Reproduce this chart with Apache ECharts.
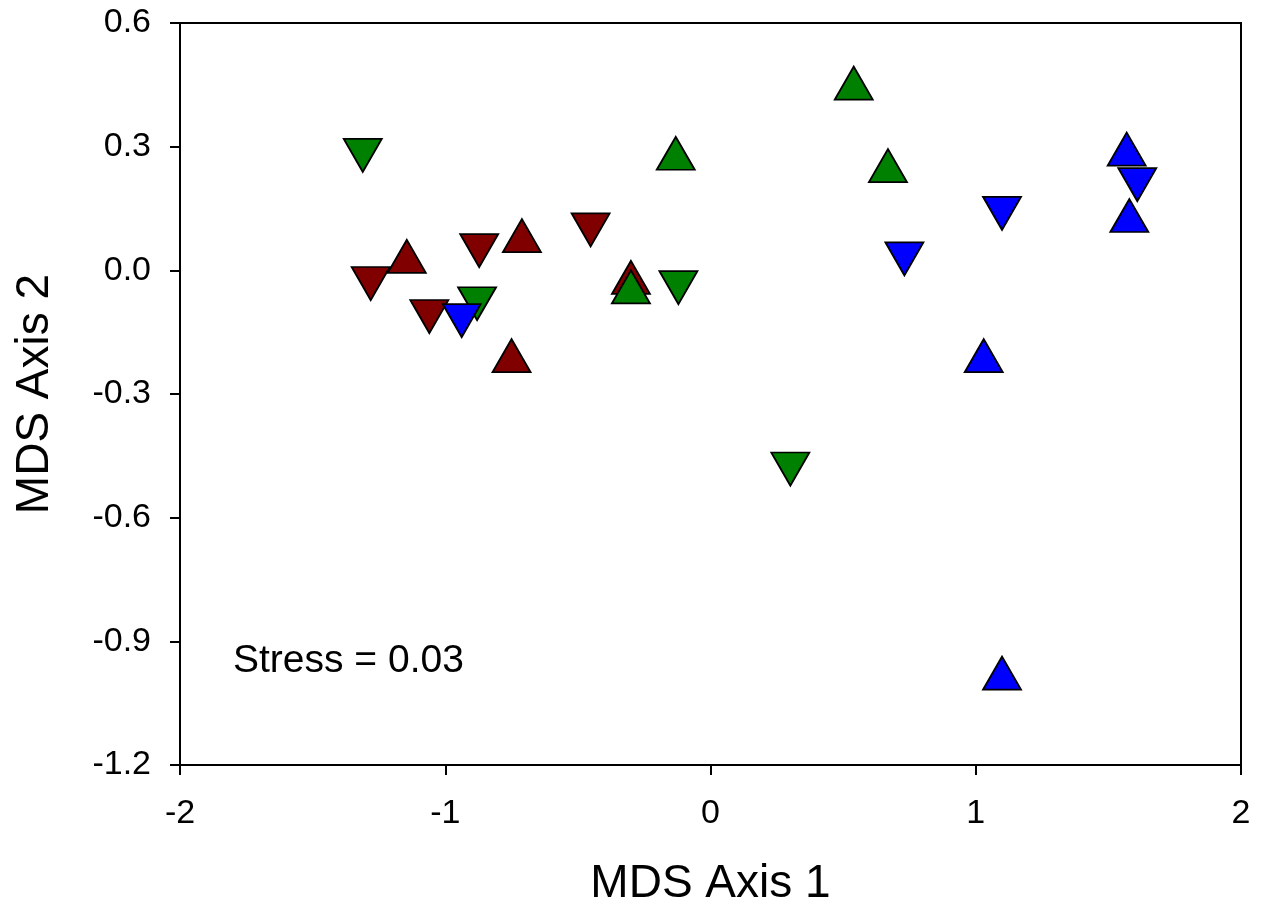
<!DOCTYPE html>
<html>
<head>
<meta charset="utf-8">
<script src="https://cdn.jsdelivr.net/npm/echarts@6/dist/echarts.min.js"></script>
<style>
html,body{margin:0;padding:0;background:#fff;}
#c{width:1267px;height:922px;}
</style>
</head>
<body>
<div id="c"></div>
<script>
// Data (MDS Axis 1, MDS Axis 2)
var redUp = [[-1.145, 0.034], [-0.711, 0.084], [-0.750, -0.207], [-0.300, -0.017]];
var redDown = [[-1.281, -0.032], [-0.872, 0.048], [-0.452, 0.098], [-1.060, -0.112]];
var greenUp = [[-0.131, 0.284], [-0.300, -0.040], [0.540, 0.454], [0.669, 0.254]];
var greenDown = [[-1.311, 0.279], [-0.880, -0.081], [-0.121, -0.042], [0.301, -0.482]];
var blueUp = [[1.569, 0.294], [1.579, 0.133], [1.030, -0.207], [1.099, -0.977]];
var blueDown = [[1.609, 0.208], [1.099, 0.138], [0.731, 0.028], [-0.938, -0.122]];
var xTicks = [-2, -1, 0, 1, 2];
var yTicks = [-1.2, -0.9, -0.6, -0.3, 0.0, 0.3, 0.6];
var stressText = 'Stress = 0.03';

var FONT = 'Liberation Sans, Arial, sans-serif';
function tri(name, data, color, down) {
  return {
    name: name, type: 'scatter', data: data,
    symbol: 'triangle', symbolSize: [38, 33], symbolRotate: down ? 180 : 0,
    itemStyle: { color: color, borderColor: '#000', borderWidth: 1.8, opacity: 1 },
    emphasis: { disabled: true }, z: 3
  };
}
var chart = echarts.init(document.getElementById('c'), null, { renderer: 'canvas' });
chart.setOption({
  animation: false,
  backgroundColor: '#fff',
  grid: { left: 180, right: 26, top: 23, bottom: 157, show: true, borderColor: '#000', borderWidth: 2, backgroundColor: 'transparent' },
  xAxis: {
    type: 'value', min: xTicks[0], max: xTicks[xTicks.length - 1], interval: 1,
    name: 'MDS Axis 1', nameLocation: 'middle', nameGap: 96,
    nameTextStyle: { fontFamily: FONT, fontSize: 46, color: '#000' },
    axisLine: { show: true, onZero: false, lineStyle: { color: '#000', width: 2 } },
    axisTick: { show: true, inside: false, length: 10, lineStyle: { color: '#000', width: 2 } },
    axisLabel: { fontFamily: FONT, fontSize: 34, color: '#000', margin: 32 },
    splitLine: { show: false }
  },
  yAxis: {
    type: 'value', min: yTicks[0], max: yTicks[yTicks.length - 1], interval: 0.3,
    name: 'MDS Axis 2', nameLocation: 'middle', nameGap: 122, nameRotate: 90,
    nameTextStyle: { fontFamily: FONT, fontSize: 46, color: '#000' },
    axisLine: { show: true, onZero: false, lineStyle: { color: '#000', width: 2 } },
    axisTick: { show: true, inside: false, length: 10, lineStyle: { color: '#000', width: 2 } },
    axisLabel: { fontFamily: FONT, fontSize: 34, color: '#000', margin: 29,
      formatter: function (v) { return v.toFixed(1); } },
    splitLine: { show: false }
  },
  graphic: [{
    type: 'text', left: 233, top: 642,
    style: { text: stressText, font: '39px ' + FONT, fill: '#000' }
  }],
  series: [
    tri('Red up', redUp, '#800000', false),
    tri('Red down', redDown, '#800000', true),
    tri('Green up', greenUp, '#008000', false),
    tri('Green down', greenDown, '#008000', true),
    tri('Blue up', blueUp, '#0000ff', false),
    tri('Blue down', blueDown, '#0000ff', true)
  ]
});
</script>
</body>
</html>
